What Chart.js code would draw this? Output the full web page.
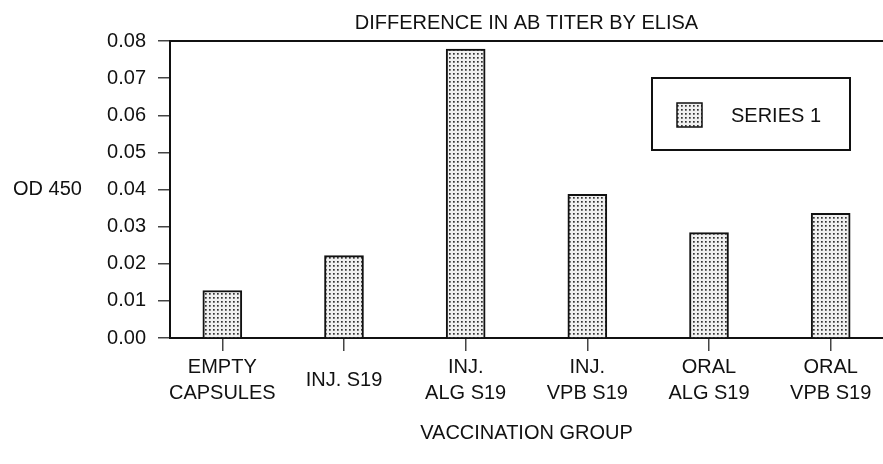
<!DOCTYPE html>
<html>
<head>
<meta charset="utf-8">
<script src="https://cdn.jsdelivr.net/npm/chart.js@4.4.1/dist/chart.umd.min.js"></script>
<style>
  html, body { margin: 0; padding: 0; background: #fff; }
  #wrap { width: 883px; height: 464px; position: relative; }
</style>
</head>
<body>
<div id="wrap"><canvas id="chart"></canvas></div>
<script>
// Difference in AB titer by ELISA

const categories = [
  ['EMPTY', 'CAPSULES'],
  'INJ. S19',
  ['INJ.', 'ALG S19'],
  ['INJ.', 'VPB S19'],
  ['ORAL', 'ALG S19'],
  ['ORAL', 'VPB S19']
];
const series1 = [0.0128, 0.0222, 0.0778, 0.0387, 0.0284, 0.0336];
const seriesLabel = 'SERIES 1';
const yTicks = [0, 0.01, 0.02, 0.03, 0.04, 0.05, 0.06, 0.07, 0.08];

const chartTitle = 'DIFFERENCE IN AB TITER BY ELISA';
const xTitle = 'VACCINATION GROUP';
const yTitle = 'OD 450';

const FONT = '"Liberation Sans", Arial, sans-serif';

// dotted fill like the printed figure
function makeDotPattern() {
  const c = document.createElement('canvas');
  c.width = 4;
  c.height = 4;
  const g = c.getContext('2d');
  g.fillStyle = '#f0f0f0';
  g.fillRect(0, 0, 4, 4);
  g.fillStyle = '#333';
  g.fillRect(1, 1, 1.7, 1.7);
  return g.createPattern(c, 'repeat');
}

const ctx = document.getElementById('chart').getContext('2d');
const dots = makeDotPattern();

// horizontal y title + boxed legend inside the plot
const extrasPlugin = {
  id: 'extras',
  afterDraw(chart) {
    const c = chart.ctx;
    const area = chart.chartArea;
    c.save();
    c.font = '20px ' + FONT;
    c.fillStyle = '#111';
    c.textBaseline = 'middle';
    c.textAlign = 'left';
    c.fillText(yTitle, 13, (area.top + area.bottom) / 2);

    // legend box
    const bx = 652, by = 78, bw = 198, bh = 72;
    c.lineWidth = 2;
    c.strokeStyle = '#111';
    c.fillStyle = '#fff';
    c.fillRect(bx, by, bw, bh);
    c.strokeRect(bx, by, bw, bh);
    c.fillStyle = dots;
    c.fillRect(677, 103, 25, 24);
    c.lineWidth = 1.5;
    c.strokeRect(677, 103, 25, 24);
    c.fillStyle = '#111';
    c.fillText(chart.data.datasets[0].label, 731, 116);
    c.restore();
  }
};

new Chart(ctx, {
  type: 'bar',
  data: {
    datasets: [{
      label: seriesLabel,
      data: series1.map((v, i) => ({ x: i, y: v })),
      backgroundColor: dots,
      borderColor: '#111',
      borderWidth: 2,
      borderSkipped: 'bottom',
      barThickness: 39
    }]
  },
  options: {
    responsive: true,
    maintainAspectRatio: false,
    animation: false,
    layout: { padding: { top: 10, right: 0, bottom: 20, left: 0 } },
    plugins: {
      legend: { display: false },
      title: { display: false },
      tooltip: { enabled: false }
    },
    scales: {
      x: {
        type: 'linear',
        position: 'bottom',
        offset: false,
        min: -0.43,
        max: 5.43,
        afterBuildTicks(scale) {
          scale.ticks = categories.map((c, i) => ({ value: i }));
        },
        afterFit(scale) {
          scale.height = 106;
          // let the last label hang over the edge, plot runs to the border
          scale.paddingLeft = 0;
          scale.paddingRight = 0;
        },
        grid: {
          offset: false,
          drawOnChartArea: false,
          drawTicks: true,
          tickLength: 13,
          color: '#444',
          lineWidth: 1.5
        },
        border: { display: true, color: '#111', width: 2 },
        ticks: {
          color: '#111',
          font: { family: FONT, size: 20, lineHeight: 1.3 },
          padding: 16,
          maxRotation: 0,
          autoSkip: false,
          crossAlign: 'center',
          callback: v => categories[v]
        },
        title: {
          display: true,
          text: xTitle,
          color: '#111',
          font: { family: FONT, size: 20, lineHeight: 1.1 },
          padding: { top: 0, bottom: 0 }
        }
      },
      x2: {
        type: 'category',
        position: 'top',
        labels: categories,
        grid: { drawOnChartArea: false, drawTicks: false },
        border: { display: true, color: '#111', width: 2 },
        ticks: { display: false },
        title: {
          display: true,
          text: chartTitle,
          color: '#111',
          font: { family: FONT, size: 20, lineHeight: 1.1 },
          padding: { top: 2, bottom: 7 }
        }
      },
      y: {
        min: 0,
        max: 0.08,
        afterFit(scale) { scale.width = 170; },
        afterBuildTicks(scale) {
          scale.ticks = yTicks.map(v => ({ value: v }));
        },
        grid: {
          drawOnChartArea: false,
          drawTicks: true,
          tickLength: 12,
          color: '#444',
          lineWidth: 1.5
        },
        border: { display: true, color: '#111', width: 2 },
        ticks: {
          color: '#111',
          font: { family: FONT, size: 20 },
          padding: 12,
          callback: v => Number(v).toFixed(2)
        }
      }
    }
  },
  plugins: [extrasPlugin]
});
</script>
</body>
</html>
